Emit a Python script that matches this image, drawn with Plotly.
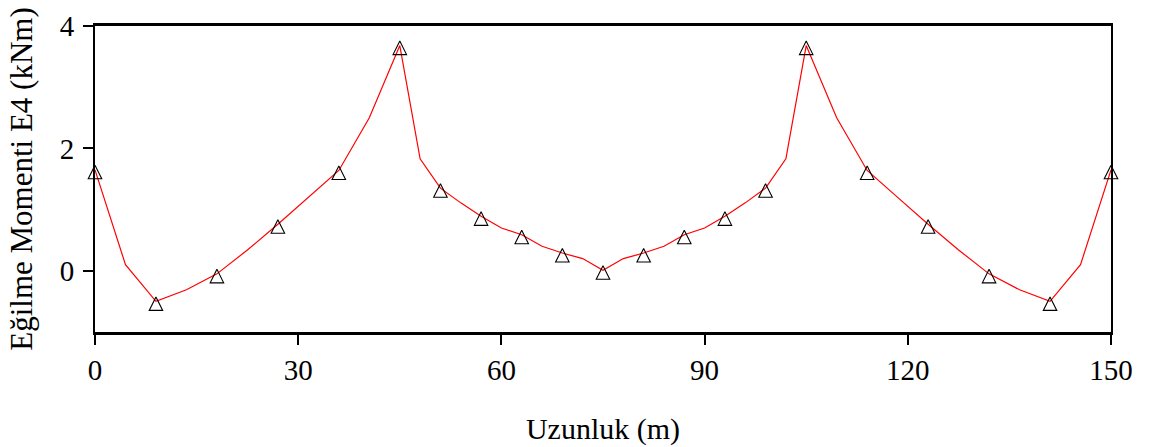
import plotly.graph_objects as go

# Line (all computed stations)
x_line = [0, 4.5, 9, 13.5, 18, 22.5, 27, 31.5, 36, 40.5, 45,
          48, 51, 54, 57, 60, 63, 66, 69, 72, 75, 78, 81, 84, 87, 90, 93, 96, 99, 102,
          105, 109.5, 114, 118.5, 123, 127.5, 132, 136.5, 141, 145.5, 150]
y_line = [1.65, 0.10, -0.50, -0.31, -0.05, 0.34, 0.76, 1.20, 1.64, 2.50, 3.68,
          1.83, 1.35, 1.11, 0.89, 0.70, 0.59, 0.40, 0.29, 0.20, 0.01, 0.20, 0.29, 0.40, 0.59, 0.70, 0.89, 1.11, 1.35, 1.83,
          3.68, 2.50, 1.64, 1.20, 0.76, 0.34, -0.05, -0.31, -0.50, 0.10, 1.65]

# Marked stations
x_mark = [0, 9, 18, 27, 36, 45, 51, 57, 63, 69, 75, 81, 87, 93, 99, 105, 114, 123, 132, 141, 150]
y_mark = [1.65, -0.50, -0.05, 0.76, 1.64, 3.68, 1.35, 0.89, 0.59, 0.29, 0.01, 0.29, 0.59, 0.89, 1.35, 3.68,
          1.64, 0.76, -0.05, -0.50, 1.65]

x_ticks = [0, 30, 60, 90, 120, 150]
y_ticks = [0, 2, 4]

FONT = "Liberation Serif"

fig = go.Figure()
fig.add_trace(go.Scatter(x=x_line, y=y_line, mode="lines",
                         line=dict(color="#ff0000", width=1.2),
                         showlegend=False, hoverinfo="skip"))
fig.add_trace(go.Scatter(x=x_mark, y=y_mark, mode="markers",
                         marker=dict(symbol="arrow-down-open", size=13.5, angle=180, standoff=4.5,
                                     color="black", line=dict(color="black", width=1.1)),
                         cliponaxis=False, showlegend=False))

fig.update_layout(
    width=1149, height=447,
    margin=dict(l=95, r=38, t=26, b=115),
    paper_bgcolor="white", plot_bgcolor="white",
    font=dict(family=FONT, size=29, color="black"),
)
fig.update_xaxes(range=[0, 150], tickvals=x_ticks, ticktext=[str(v) for v in x_ticks],
                 showgrid=False, zeroline=False, showline=True, linecolor="black", linewidth=2.5,
                 mirror=True, ticks="outside", ticklen=10, tickwidth=2, tickcolor="black",
                 tickfont=dict(family=FONT, size=29), automargin=False,
                 title=dict(text="Uzunluk (m)", font=dict(family=FONT, size=30), standoff=34))
fig.update_yaxes(range=[-1, 4], tickvals=y_ticks, ticktext=[str(v) for v in y_ticks],
                 showgrid=False, zeroline=False, showline=True, linecolor="black", linewidth=2,
                 mirror=True, ticks="outside", ticklen=10, tickwidth=2, tickcolor="black",
                 tickfont=dict(family=FONT, size=29), ticklabelstandoff=3, automargin=False,
                 title=dict(text="Eğilme Momenti E4 (kNm)", font=dict(family=FONT, size=31), standoff=18))

fig.write_html("out.html")
